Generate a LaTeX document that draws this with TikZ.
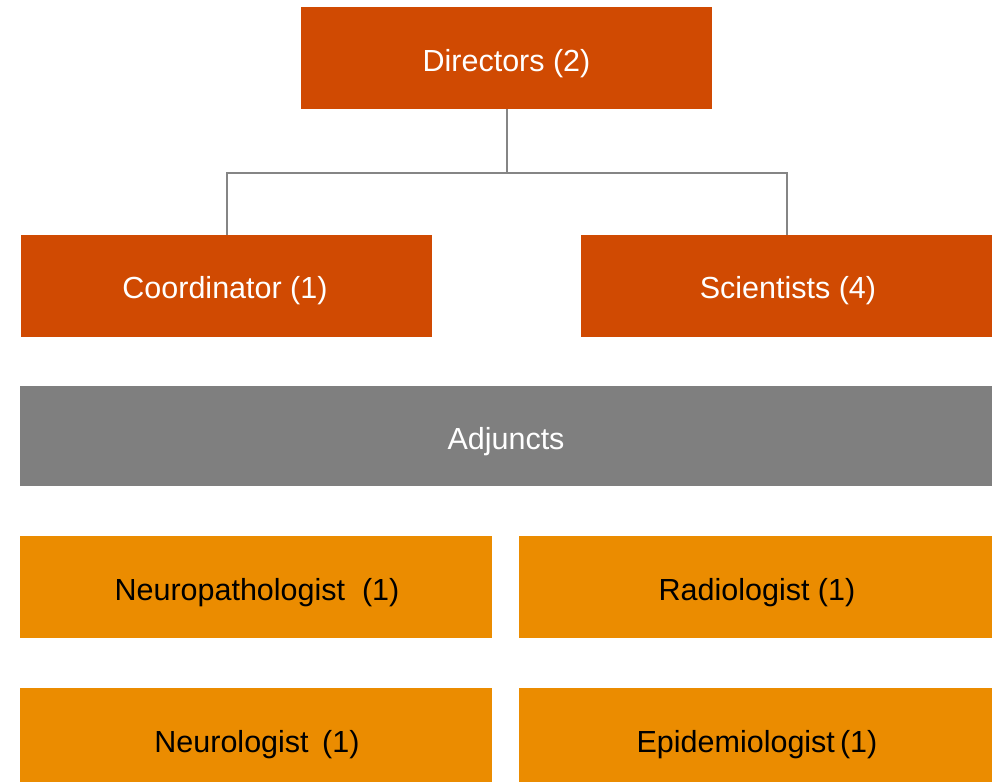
\documentclass[tikz,border=0pt]{standalone}
\usepackage{fontspec}
\setmainfont{Liberation Sans}
\definecolor{darkor}{HTML}{D04A02}
\definecolor{midgray}{HTML}{7F7F7F}
\definecolor{lightor}{HTML}{EB8C00}
\definecolor{linegray}{HTML}{858585}
\begin{document}
\begin{tikzpicture}[x=1pt,y=-1pt,
  lbl/.style={inner sep=0pt,font=\fontsize{30.5}{36}\selectfont},
  wlbl/.style={lbl,text=white},
  topbox/.style={fill=darkor},
  adjbox/.style={fill=midgray},
  subbox/.style={fill=lightor},
  link/.style={draw=linegray,line width=2pt}]
\useasboundingbox (0,0) rectangle (994,782);
\fill[white] (0,0) rectangle (994,782);
\path[topbox] (301,7) rectangle (712,108.5);
\node[wlbl] (dir) at (506.5,63.5) {Directors (2)};
\coordinate (dirb) at (506.5,108.5);
\path[topbox] (21,235) rectangle (432,336.5);
\node[wlbl] (coord) at (225,290.5) {Coordinator (1)};
\coordinate (coordt) at (226.5,235);
\path[topbox] (581,235) rectangle (992,336.5);
\node[wlbl] (sci) at (788,290.5) {Scientists (4)};
\coordinate (scit) at (786.5,235);
\path[adjbox] (20,386) rectangle (992,486);
\node[wlbl] (adj) at (506,441.5) {Adjuncts};
\path[subbox] (20,536) rectangle (492,638);
\node[lbl] (neup) at (257,593) {Neuropathologist\ \ (1)};
\path[subbox] (519,536) rectangle (992,638);
\node[lbl] (rad) at (757,593) {Radiologist (1)};
\path[subbox] (20,688) rectangle (492,782);
\node[lbl] (neu) at (257,744.5) {Neurologist\ \,(1)};
\path[subbox] (519,688) rectangle (992,782);
\node[lbl] (epi) at (757,744.5) {Epidemiologist\,(1)};
\coordinate (mid) at (506.5,172.5);
\draw[link] (dirb) -- (mid);
\draw[link] (coordt) |- (mid) -| (scit);
\end{tikzpicture}
\end{document}
